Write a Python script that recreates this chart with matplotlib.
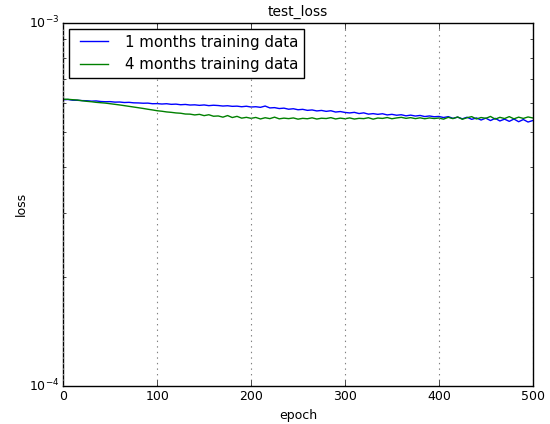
import numpy as np
import matplotlib
matplotlib.use("Agg")
import matplotlib.pyplot as plt

plt.style.use('classic')

# test loss every 5 epochs, in units of 1e-4
epochs = np.arange(0, 501, 5)

loss_1m = [
    6.136, 6.144, 6.117, 6.113, 6.101, 6.097, 6.081, 6.089, 6.066, 6.058,
    6.062, 6.043, 6.047, 6.028, 6.035, 6.016, 6.012, 6.001, 6.005, 5.982,
    5.986, 5.971, 5.982, 5.959, 5.967, 5.944, 5.955, 5.933, 5.940, 5.921,
    5.936, 5.910, 5.925, 5.914, 5.895, 5.906, 5.884, 5.891, 5.869, 5.888,
    5.858, 5.869, 5.847, 5.895, 5.825, 5.836, 5.802, 5.817, 5.777, 5.795,
    5.758, 5.773, 5.736, 5.751, 5.715, 5.733, 5.700, 5.722, 5.675, 5.693,
    5.661, 5.643, 5.664, 5.621, 5.646, 5.600, 5.618, 5.593, 5.614, 5.572,
    5.593, 5.561, 5.579, 5.540, 5.565, 5.533, 5.554, 5.515, 5.536, 5.508,
    5.519, 5.481, 5.512, 5.453, 5.494, 5.436, 5.491, 5.419, 5.467, 5.395,
    5.460, 5.377, 5.453, 5.363, 5.425, 5.350, 5.429, 5.337, 5.412, 5.327,
    5.377,
]

loss_4m = [
    6.156, 6.152, 6.136, 6.124, 6.097, 6.074, 6.058, 6.035, 6.020, 6.005,
    5.982, 5.959, 5.936, 5.910, 5.884, 5.858, 5.832, 5.806, 5.777, 5.751,
    5.722, 5.704, 5.679, 5.664, 5.643, 5.632, 5.604, 5.600, 5.572, 5.593,
    5.547, 5.579, 5.526, 5.536, 5.494, 5.550, 5.481, 5.522, 5.460, 5.488,
    5.453, 5.484, 5.432, 5.474, 5.443, 5.494, 5.436, 5.460, 5.443, 5.467,
    5.425, 5.453, 5.439, 5.471, 5.429, 5.457, 5.446, 5.477, 5.432, 5.460,
    5.439, 5.467, 5.429, 5.453, 5.443, 5.474, 5.425, 5.464, 5.450, 5.481,
    5.439, 5.467, 5.488, 5.453, 5.477, 5.443, 5.471, 5.439, 5.467, 5.446,
    5.464, 5.425, 5.488, 5.443, 5.501, 5.422, 5.474, 5.512, 5.432, 5.481,
    5.453, 5.519, 5.425, 5.488, 5.446, 5.512, 5.436, 5.494, 5.450, 5.501,
    5.467,
]

fig = plt.figure(figsize=(5.5, 4.24), dpi=100, facecolor='white')
ax = fig.add_axes([0.1151, 0.0896, 0.8535, 0.857])

ax.plot(epochs, np.array(loss_1m) * 1e-4, 'b-', lw=1, label='1 months training data')
ax.plot(epochs, np.array(loss_4m) * 1e-4, 'g-', lw=1, label='4 months training data')

ax.set_yscale('log')
ax.set_ylim(1e-4, 1e-3)
ax.set_xlim(0, 500)
ax.xaxis.grid(True, linestyle=':', color='gray', lw=0.8)

ax.set_title('test_loss', fontsize=10, pad=5)
ax.set_xlabel('epoch', fontsize=9, labelpad=4)
ax.set_ylabel('loss', fontsize=9, labelpad=1)
ax.tick_params(labelsize=9, pad=3)

ax.legend(loc='upper left', fontsize=10.8, handlelength=2.5, borderaxespad=0.4)

fig.savefig('out.png', dpi=100, facecolor='white')
